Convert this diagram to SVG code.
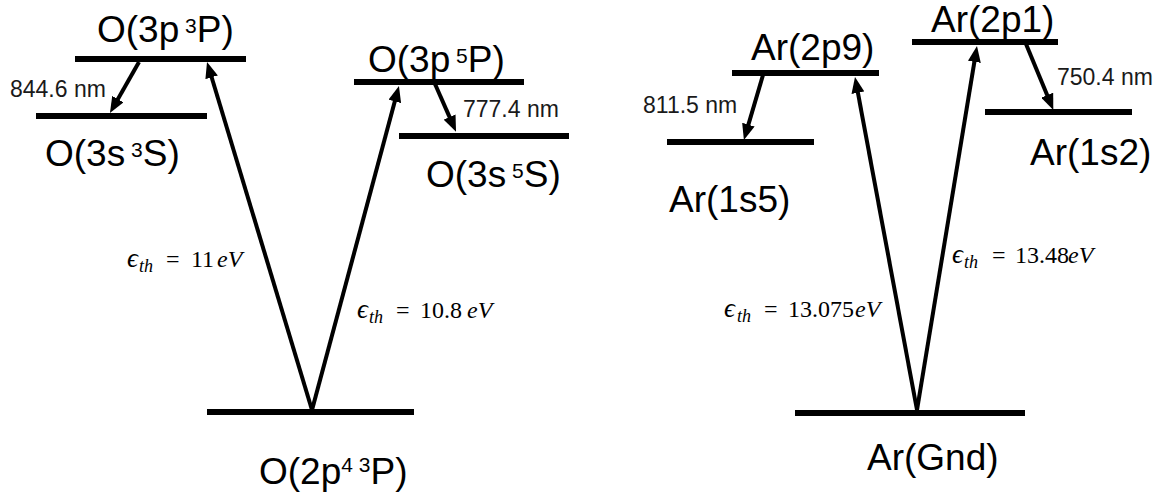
<svg xmlns="http://www.w3.org/2000/svg" width="1167" height="495" viewBox="0 0 1167 495">
<style>
.lvl{stroke:#000;stroke-width:6;fill:none}
.lbl{font-family:"Liberation Sans",Arial,sans-serif;font-size:37px;fill:#000}
.sup{font-size:21px}
.wl{font-family:"Liberation Sans",Arial,sans-serif;font-size:23px;fill:#1a1a1a}
.arr{stroke:#000;stroke-width:4;fill:none;marker-end:url(#ah)}
.m{font-family:"Liberation Serif","DejaVu Serif",serif;font-size:24px;fill:#000}
.mi{font-style:italic}
.eps{font-style:italic;font-size:27px}
.sub{font-size:18px;font-style:italic}
</style>
<defs>
<marker id="ah" viewBox="0 0 16 13" refX="5" refY="6.5" markerWidth="16" markerHeight="13" markerUnits="userSpaceOnUse" orient="auto">
<path d="M0,0 L16,6.5 L0,13 z" fill="#000"/>
</marker>
</defs>
<rect width="1167" height="495" fill="#fff"/>

<g id="O_3p3P">
<line class="lvl" x1="75" y1="59" x2="246" y2="59"/>
<text class="lbl" x="97" y="42">O(3p<tspan class="sup" dy="-9"> 3</tspan><tspan dy="9">P)</tspan></text>
</g>
<g id="O_3s3S">
<line class="lvl" x1="36" y1="116" x2="207" y2="116"/>
<text class="lbl" x="45" y="166">O(3s<tspan class="sup" dy="-9"> 3</tspan><tspan dy="9">S)</tspan></text>
</g>
<g id="O_3p5P">
<line class="lvl" x1="354" y1="82" x2="524" y2="82"/>
<text class="lbl" x="368" y="72">O(3p<tspan class="sup" dy="-9"> 5</tspan><tspan dy="9">P)</tspan></text>
</g>
<g id="O_3s5S">
<line class="lvl" x1="399" y1="136" x2="569" y2="136"/>
<text class="lbl" x="426" y="187">O(3s<tspan class="sup" dy="-9"> 5</tspan><tspan dy="9">S)</tspan></text>
</g>
<g id="O_ground">
<line class="lvl" x1="207" y1="412" x2="414" y2="412"/>
<text class="lbl" x="259" y="484">O(2p<tspan class="sup" dy="-12">4 3</tspan><tspan dy="12">P)</tspan></text>
</g>
<g id="Ar_2p9">
<line class="lvl" x1="732" y1="73" x2="879" y2="73"/>
<text class="lbl" x="751" y="60">Ar(2p9)</text>
</g>
<g id="Ar_1s5">
<line class="lvl" x1="667" y1="142" x2="814" y2="142"/>
<text class="lbl" x="669" y="212">Ar(1s5)</text>
</g>
<g id="Ar_2p1">
<line class="lvl" x1="912" y1="42" x2="1058" y2="42"/>
<text class="lbl" x="931" y="32">Ar(2p1)</text>
</g>
<g id="Ar_1s2">
<line class="lvl" x1="985" y1="112" x2="1132" y2="112"/>
<text class="lbl" x="1030" y="165">Ar(1s2)</text>
</g>
<g id="Ar_Gnd">
<line class="lvl" x1="795" y1="413" x2="1025" y2="413"/>
<text class="lbl" x="867" y="470">Ar(Gnd)</text>
</g>

<g id="connectors">
<line class="arr" x1="312" y1="410" x2="210.2" y2="72.5"/>
<line class="arr" x1="312" y1="410" x2="396.1" y2="96.6"/>
<line class="arr" x1="139" y1="62" x2="115.4" y2="103.4"/>
<line class="arr" x1="435" y1="84" x2="451.6" y2="121.6"/>
<line class="arr" x1="917" y1="410" x2="857" y2="87.8"/>
<line class="arr" x1="917" y1="410" x2="975.2" y2="56.9"/>
<line class="arr" x1="763" y1="75" x2="747" y2="129.4"/>
<line class="arr" x1="1026" y1="44" x2="1049.1" y2="99.8"/>

<text class="wl" x="10" y="97">844.6 nm</text>
<text class="wl" x="463" y="117">777.4 nm</text>
<text class="wl" x="643" y="113">811.5 nm</text>
<text class="wl" x="1057" y="85">750.4 nm</text>

<text class="m" y="267"><tspan class="eps" x="127">ϵ</tspan><tspan class="sub" x="139" dy="5">th</tspan><tspan x="166" dy="-5">=</tspan><tspan x="191">11</tspan><tspan class="mi" x="217">eV</tspan></text>
<text class="m" y="318"><tspan class="eps" x="357">ϵ</tspan><tspan class="sub" x="369" dy="5">th</tspan><tspan x="396" dy="-5">=</tspan><tspan x="420">10.8</tspan><tspan class="mi" x="467">eV</tspan></text>
<text class="m" y="263"><tspan class="eps" x="952">ϵ</tspan><tspan class="sub" x="964" dy="5">th</tspan><tspan x="992" dy="-5">=</tspan><tspan x="1015">13.48</tspan><tspan class="mi" x="1068">eV</tspan></text>
<text class="m" y="317"><tspan class="eps" x="724">ϵ</tspan><tspan class="sub" x="737" dy="5">th</tspan><tspan x="764" dy="-5">=</tspan><tspan x="788">13.075</tspan><tspan class="mi" x="855">eV</tspan></text>
</g>
</svg>
